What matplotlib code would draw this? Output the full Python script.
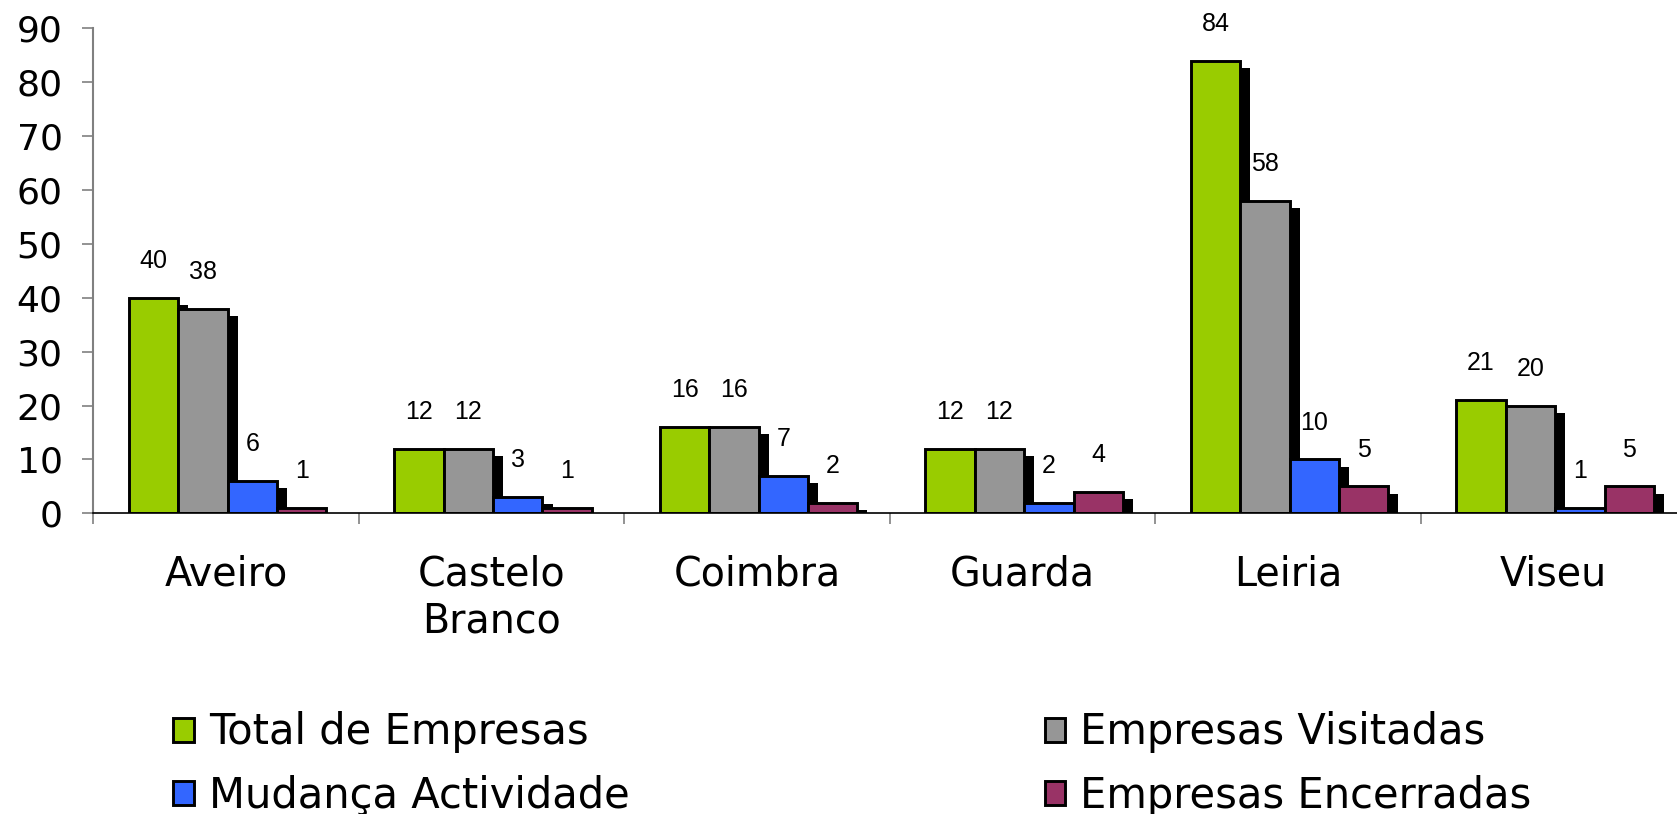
import matplotlib
matplotlib.use("Agg")
import matplotlib.pyplot as plt
from matplotlib.patches import Patch
import numpy as np

districts = ["Aveiro", "Castelo\nBranco", "Coimbra", "Guarda", "Leiria", "Viseu"]
series_names = ["Total de Empresas", "Empresas Visitadas",
                "Mudança Actividade", "Empresas Encerradas"]
total = [40, 12, 16, 12, 84, 21]
visitadas = [38, 12, 16, 12, 58, 20]
mudanca = [6, 3, 7, 2, 10, 1]
encerradas = [1, 1, 2, 4, 5, 5]
colors = ["#99CC00", "#969696", "#3366FF", "#993366"]
yticks = [0, 10, 20, 30, 40, 50, 60, 70, 80, 90]

series = [total, visitadas, mudanca, encerradas]

fig = plt.figure(figsize=(16.77, 8.14), dpi=100)
ax = fig.add_axes([0.0556, 0.3694, 0.9444, 0.5958])

x = np.arange(len(districts))
w = 0.186
sdx = 0.038   # shadow offset (data units)
sdy = 1.35

for j, vals in enumerate(series):
    pos = x + 0.006 + (j - 1.5) * w
    v = np.array(vals, dtype=float)
    # black drop shadow behind each bar
    ax.bar(pos + sdx, np.clip(v - sdy, 0, None), w, color="black",
           linewidth=0, zorder=1)
    ax.bar(pos, v, w, color=colors[j], edgecolor="black", linewidth=2.1,
           zorder=2, label=series_names[j])
    for px, val in zip(pos, vals):
        ax.annotate(str(val), (px, val), xytext=(0, 21.5),
                    textcoords="offset points", ha="center", va="baseline",
                    fontsize=18, family="Liberation Sans")

# category width ~265.5 px; the last boundary falls beyond the figure edge
ax.set_xlim(-0.5, -0.5 + (1677 - 93.3) / 265.5)
ax.set_ylim(0, 90)
ax.set_yticks(yticks)
ax.tick_params(axis="y", labelsize=26, length=8, width=1.2,
               color="#808080", pad=14)
ax.set_xticks(x)
ax.set_xticklabels(districts, fontsize=28.5, linespacing=1.22)
ax.set_xticks(np.arange(len(districts)) - 0.5, minor=True)
ax.tick_params(axis="x", which="major", length=0, pad=30)
ax.tick_params(axis="x", which="minor", length=8, width=1.2, color="#808080")

for s in ["top", "right"]:
    ax.spines[s].set_visible(False)
ax.spines["left"].set_color("#808080")
ax.spines["left"].set_linewidth(1.5)
ax.spines["bottom"].set_color("black")
ax.spines["bottom"].set_linewidth(1.2)

handles = [Patch(facecolor=c, edgecolor="black", linewidth=2.1) for c in colors]
order = [0, 2, 1, 3]
fig.legend([handles[i] for i in order], [series_names[i] for i in order],
           loc="upper left", bbox_to_anchor=(0.1034, 0.126), ncol=2,
           frameon=False, fontsize=30, handlelength=0.5, handleheight=0.5,
           handletextpad=0.35, columnspacing=9.96, labelspacing=0.52,
           borderpad=0, borderaxespad=0)

fig.savefig("out.png", dpi=100)
